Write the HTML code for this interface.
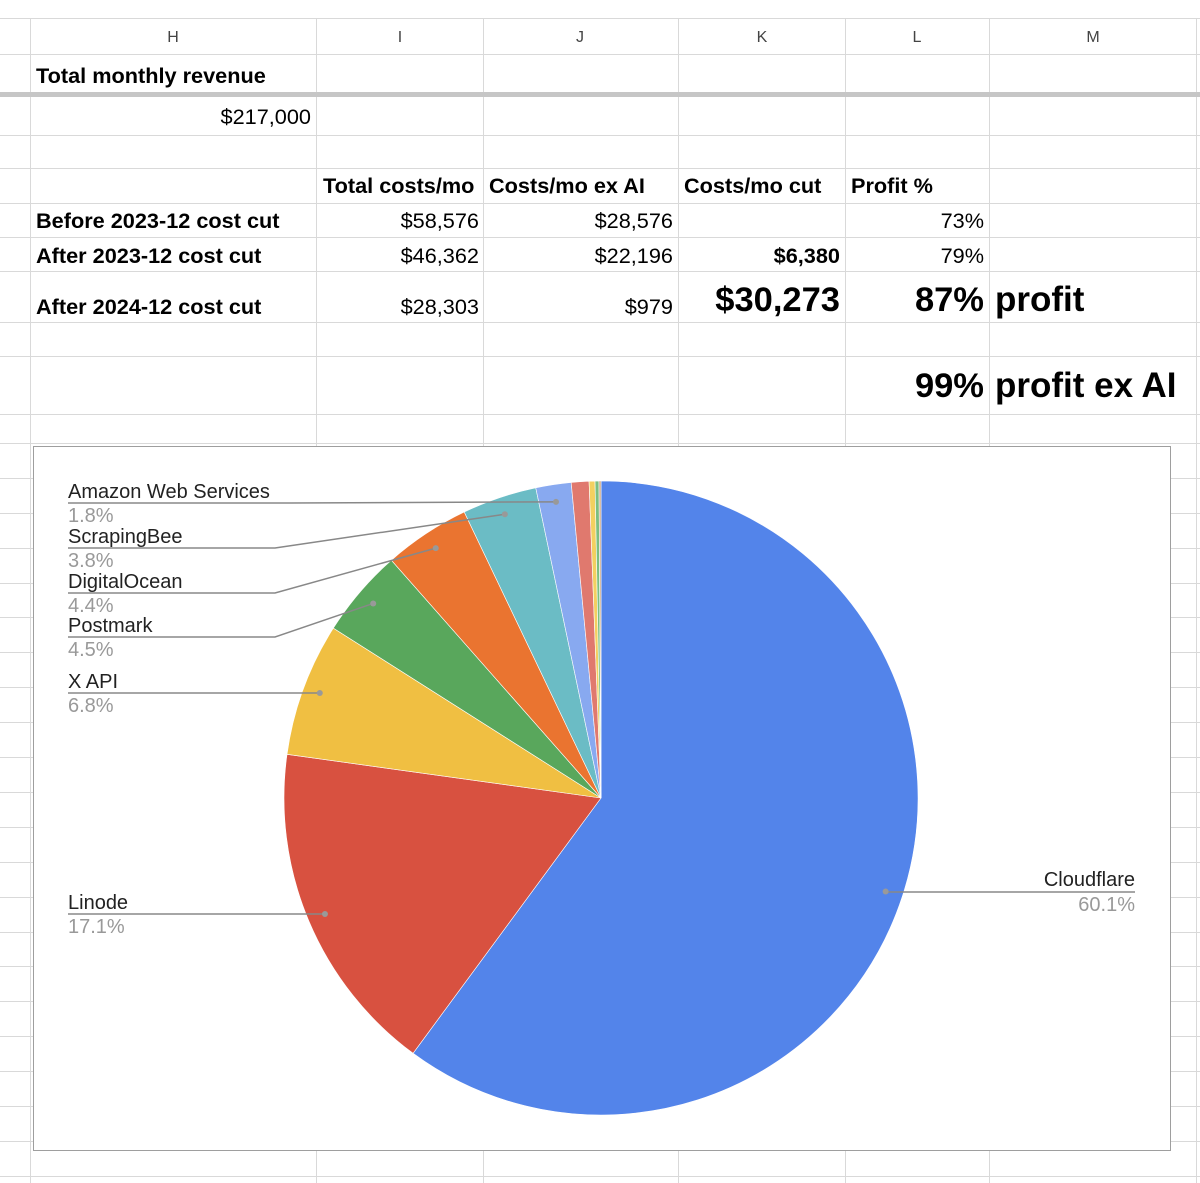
<!DOCTYPE html>
<html><head><meta charset="utf-8"><style>
html,body{margin:0;padding:0;background:#fff;}
svg{display:block;font-family:"Liberation Sans",Arial,sans-serif;}
</style></head><body>
<svg id="sheet" width="1200" height="1183" viewBox="0 0 1200 1183" xmlns="http://www.w3.org/2000/svg">
<g id="grid"></g>
<g font-size="16" fill="#444" text-anchor="middle">
<text x="173" y="42">H</text><text x="400" y="42">I</text><text x="580" y="42">J</text><text x="762" y="42">K</text><text x="917" y="42">L</text><text x="1093" y="42">M</text>
</g>
<g fill="#000" font-size="21.7">
<text x="36" y="83" font-weight="bold">Total monthly revenue</text>
<text x="311" y="124" text-anchor="end">$217,000</text>
<g font-weight="bold">
<text x="323" y="193">Total costs/mo</text><text x="489" y="193">Costs/mo ex AI</text><text x="684" y="193">Costs/mo cut</text><text x="851" y="193">Profit %</text>
<text x="36" y="228">Before 2023-12 cost cut</text><text x="36" y="263">After 2023-12 cost cut</text><text x="36" y="314">After 2024-12 cost cut</text>
</g>
<g text-anchor="end">
<text x="479" y="228">$58,576</text><text x="673" y="228">$28,576</text><text x="984" y="228">73%</text>
<text x="479" y="263">$46,362</text><text x="673" y="263">$22,196</text><text x="840" y="263" font-weight="bold">$6,380</text><text x="984" y="263">79%</text>
<text x="479" y="314">$28,303</text><text x="673" y="314">$979</text>
<text x="840" y="311" font-weight="bold" font-size="34.5">$30,273</text>
<text x="984" y="311" font-weight="bold" font-size="34.5">87%</text>
<text x="984" y="397" font-weight="bold" font-size="34.5">99%</text>
</g>
<text x="995" y="311" font-weight="bold" font-size="35">profit</text>
<text x="995" y="397" font-weight="bold" font-size="35">profit ex AI</text>
</g>
<rect x="33.5" y="446.5" width="1137" height="704" fill="#fff" stroke="#9e9e9e" stroke-width="1"/>
<g id="pie"></g>
<g id="labels"></g>
</svg>
<script>
const categories = ["Cloudflare","Linode","X API","Postmark","DigitalOcean","ScrapingBee","Amazon Web Services","Other 1","Other 2","Other 3","Other 4"];
const shares = [60.1,17.1,6.8,4.5,4.4,3.8,1.8,0.9,0.3,0.2,0.1];
const colors = ["#5384ea","#d85140","#f0bf42","#59a75c","#ea7430","#6bbcc5","#88a9f0","#e0796e","#f3d060","#7cbf80","#c9a27e"];
const labelText = ["60.1%","17.1%","6.8%","4.5%","4.4%","3.8%","1.8%"];
const NS="http://www.w3.org/2000/svg";
function mk(tag,attrs,parent){const e=document.createElementNS(NS,tag);for(const k in attrs)e.setAttribute(k,attrs[k]);parent.appendChild(e);return e;}
const grid=document.getElementById('grid');
const cols=[30,316,483,678,845,989,1196];
const rowsTop=[18,54,93,135,168,203,237,271,322,356,414];
cols.forEach(x=>{const l=mk('line',{x1:x+.5,y1:18,x2:x+.5,y2:1183,stroke:'#d9d9d9'},grid);});
rowsTop.forEach(y=>{const l=mk('line',{x1:0,y1:y+.5,x2:1200,y2:y+.5,stroke:'#d9d9d9'},grid);});
for(let y=443;y<1183;y+=34.9){const l=mk('line',{x1:0,y1:Math.round(y)+.5,x2:1200,y2:Math.round(y)+.5,stroke:'#d9d9d9'},grid);}
const fr=mk('rect',{x:0,y:92,width:1200,height:5,fill:'#c6c6c6'},grid);


const cx=601,cy=798,R=317;
const total=shares.reduce((a,b)=>a+b,0);
function pt(frac,r){const a=frac*2*Math.PI;return [cx+r*Math.sin(a),cy-r*Math.cos(a)];}
const pie=document.getElementById('pie');
let acc=0;const mids=[];
shares.forEach((v,i)=>{
  const f0=acc/total,f1=(acc+v)/total;acc+=v;mids.push((f0+f1)/2);
  const [x0,y0]=pt(f0,R),[x1,y1]=pt(f1,R);
  const large=(f1-f0)>0.5?1:0;
  const p=mk('path',{d:`M${cx},${cy}L${x0},${y0}A${R},${R} 0 ${large} 1 ${x1},${y1}Z`,fill:colors[i],stroke:'#fff','stroke-width':0.6},pie);
  
  
});
const lab=document.getElementById('labels');
const leftY=[null,914,693,637,593,548,503];
const elbowX=[null,null,null,275,275,275,290];
for(let i=0;i<7;i++){
  const [dx,dy]=pt(mids[i],R*0.945);
  if(i===0){
    const ly=892;
    const l=mk('polyline',{points:`${dx},${dy} ${dx},${ly} 1135,${ly}`,fill:'none',stroke:'#888','stroke-width':1.5},lab);
    
    const t=mk('text',{x:1135,y:ly-6,'text-anchor':'end','font-size':20,fill:'#222'},lab);t.textContent=categories[i];
    
    const p=mk('text',{x:1135,y:ly+19,'text-anchor':'end','font-size':20,fill:'#999'},lab);p.textContent=labelText[i];
    
  } else {
    const ly=leftY[i];
    const pts=elbowX[i]?`68,${ly} ${elbowX[i]},${ly} ${dx},${dy}`:`68,${ly} ${dx},${ly}`;
    const l=mk('polyline',{points:pts,fill:'none',stroke:'#888','stroke-width':1.5},lab);
    
    const t=mk('text',{x:68,y:ly-5,'font-size':20,fill:'#222'},lab);t.textContent=categories[i];
    
    const p=mk('text',{x:68,y:ly+19,'font-size':20,fill:'#999'},lab);p.textContent=labelText[i];
    
  }
  const d=mk('circle',{cx:dx,cy:(i===0?dy:(elbowX[i]?dy:leftY[i])),r:3,fill:'#999'},lab);
  
}
</script>
</body></html>
